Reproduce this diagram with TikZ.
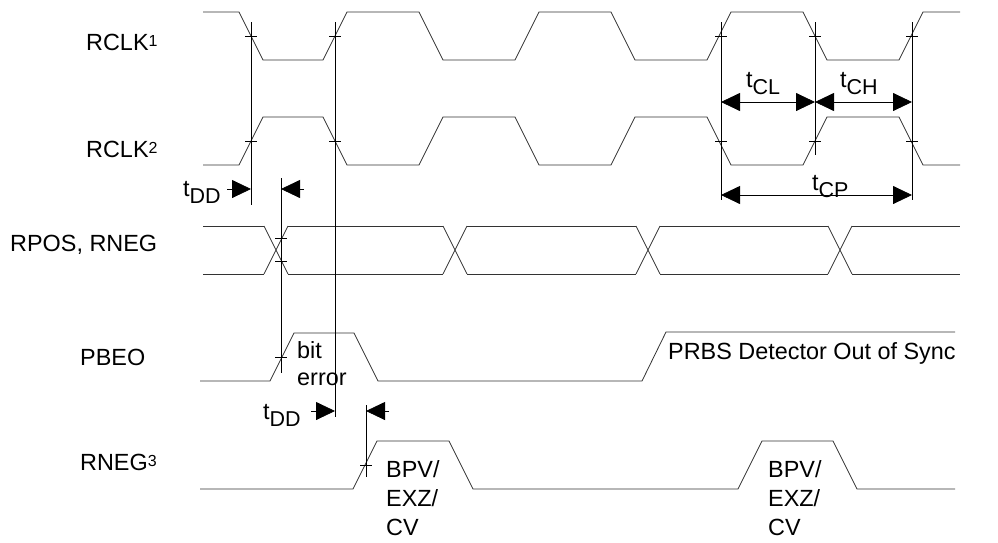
\documentclass[tikz,border=0pt]{standalone}
\usepackage{fontspec}
\setmainfont{Liberation Sans}
\usetikzlibrary{arrows.meta}

\newcommand{\tsub}[1]{t\raisebox{-7pt}{\fontsize{21.5}{22}\selectfont #1}}
\newcommand{\supn}[1]{\raisebox{4pt}{\fontsize{16}{16}\selectfont #1}}

\tikzset{
  sig/.style={line width=0.8pt, black!80},
  markline/.style={line width=0.8pt, black},
  dim/.style={markline, {Triangle[length=19pt,width=18pt]}-{Triangle[length=19pt,width=18pt]}},
  ddarrow/.style={markline, -{Triangle[length=19pt,width=18pt]}},
  txt/.style={font=\fontsize{23.4}{28}\selectfont, inner sep=0pt, anchor=base west},
}

\begin{document}
\begin{tikzpicture}[x=1pt,y=-1pt]
    \useasboundingbox (0,0) rectangle (998,542);

    % signal names
    \node[txt] (rclk1) at (86,50) {RCLK\supn{1}};
    \node[txt] (rclk2) at (86,157) {RCLK\supn{2}};
    \node[txt] (rpos) at (10,251) {RPOS, RNEG};
    \node[txt] (pbeo) at (80,365) {PBEO};
    \node[txt] (rneg) at (80,470) {RNEG\supn{3}};

    % clocks
    \draw[sig] (203,12) foreach \f/\r in {251/335,431/527,623/719,815/911}
      { -- ({\f-12},12) -- ({\f+12},60) -- ({\r-12},60) -- ({\r+12},12) } -- (960,12);
    \draw[sig] (203,165) foreach \f/\r in {251/335,431/527,623/719,815/911}
      { -- ({\f-12},165) -- ({\f+12},117) -- ({\r-12},117) -- ({\r+12},165) } -- (960,165);

    % data
    \foreach \a/\b in {203/264,288/443,467/636,660/828,852/960}
      \draw[sig] (\a,226) -- (\b,226) (\a,274) -- (\b,274);
    \foreach \c in {276,455,648,840}
      \draw[sig] ({\c-12},226) -- ({\c+12},274) ({\c-12},274) -- ({\c+12},226);

    % error outputs
    \draw[sig] (200,381) -- (270,381) -- (294,333) -- (354,333) -- (378,381)
      -- (642,381) -- (666,332) -- (955,332);
    \draw[sig] (200,489) -- (353,489) -- (377,441) -- (449,441) -- (473,489)
      -- (738,489) -- (762,441) -- (833,441) -- (857,489) -- (955,489);

    % reference lines
    \draw[markline] (251,22) -- (251,205);
    \draw[markline] (281,178) -- (281,373);
    \draw[markline] (335,22) -- (335,417);
    \draw[markline] (366,405) -- (366,477);
    \draw[markline] (721,22) -- (721,200);
    \draw[markline] (815,22) -- (815,155);
    \draw[markline] (912,22) -- (912,200);

    % crossing ticks
    \foreach \x/\y in {251/36,251/141,335/36,335/141,721/36,721/141,815/36,815/141,
                       912/36,912/141,281/238,281/261,281/357,366/465}
      \draw[markline] ({\x-6},\y) -- ({\x+6},\y);

    % timing arrows
    \coordinate (cl1) at (721,102);
    \coordinate (cl2) at (815,102);
    \coordinate (ch2) at (912,102);
    \coordinate (cp1) at (721,195);
    \coordinate (cp2) at (912,195);
    \draw[dim] (cl1) -- (cl2);
    \draw[dim] (cl2) -- (ch2);
    \draw[dim] (cp1) -- (cp2);
    \node[txt] (tcl) at (746,87) {\tsub{CL}};
    \node[txt] (tch) at (840,87) {\tsub{CH}};
    \node[txt] (tcp) at (812,190) {\tsub{CP}};

    \coordinate (dd1a) at (227,189);
    \coordinate (dd1b) at (251,189);
    \coordinate (dd1c) at (304,189);
    \coordinate (dd1d) at (281,189);
    \draw[ddarrow] (dd1a) -- (dd1b);
    \draw[ddarrow] (dd1c) -- (dd1d);
    \node[txt] (tdd1) at (183,196) {\tsub{DD}};

    \coordinate (dd2a) at (311,411);
    \coordinate (dd2b) at (335,411);
    \coordinate (dd2c) at (389,411);
    \coordinate (dd2d) at (366,411);
    \draw[ddarrow] (dd2a) -- (dd2b);
    \draw[ddarrow] (dd2c) -- (dd2d);
    \node[txt] (tdd2) at (263,419) {\tsub{DD}};

    % text
    \node[txt] (bit) at (297,358) {bit};
    \node[txt] (err) at (297,385.5) {error};
    \node[txt] (prbs) at (668,359) {PRBS Detector Out of Sync};
    \node[txt, align=left, anchor=north west] (bpv1) at (386,460) {BPV/\\[1pt]EXZ/\\[1pt]CV};
    \node[txt, align=left, anchor=north west] (bpv2) at (768,460) {BPV/\\[1pt]EXZ/\\[1pt]CV};
\end{tikzpicture}
\end{document}
